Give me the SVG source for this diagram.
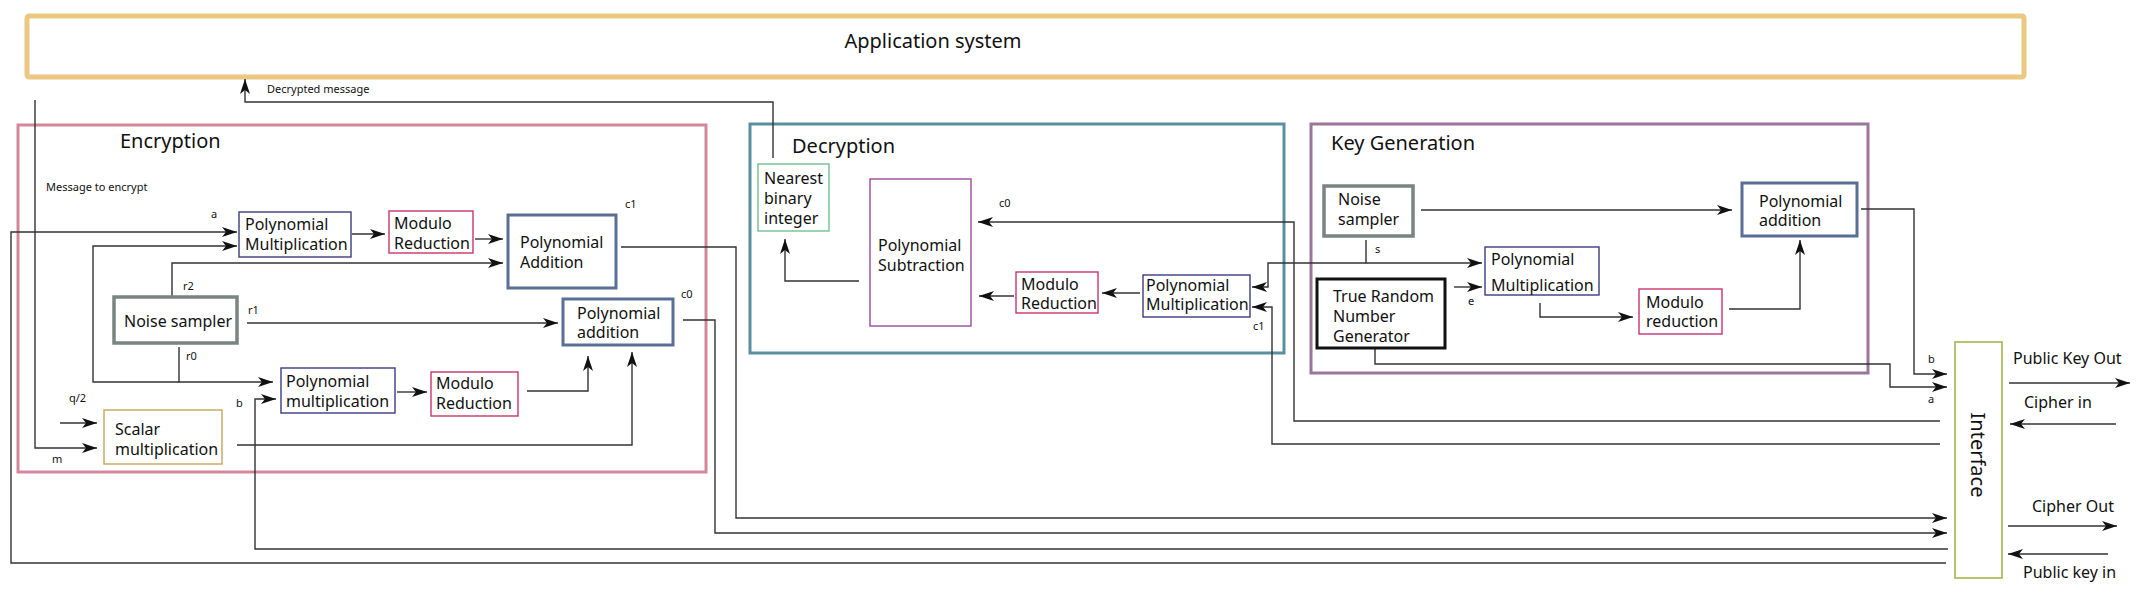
<svg xmlns="http://www.w3.org/2000/svg" width="2151" height="605" viewBox="0 0 2151 605">
<defs>
<marker id="arr" markerWidth="16" markerHeight="12" refX="15" refY="6" orient="auto" markerUnits="userSpaceOnUse" viewBox="0 0 16 12"><path d="M0,1 L15,6 L0,11 L4,6 Z" fill="#111"/></marker>
</defs>
<style>
text{font-family:"Noto Sans","Open Sans","DejaVu Sans",sans-serif;fill:#111}
.t{font-size:16px}
.h{font-size:20px}
.s{font-size:11px}
.c{fill:none;stroke:#333;stroke-width:1.4}
.ca{fill:none;stroke:#333;stroke-width:1.4;marker-end:url(#arr)}
rect{fill:#fff}
.pm{stroke:#3c3c80;stroke-width:1.4}
.mr{stroke:#c8346c;stroke-width:1.4}
.pa{stroke:#5a6e96;stroke-width:3}
.ns{stroke:#7a8480;stroke-width:3.5}
</style>
<rect width="2151" height="605" fill="#fff"/>
<g id="application">
<rect x="27" y="16" width="1997" height="61" fill="#fff" stroke="#ebc882" stroke-width="5" rx="2"/>
<text class="h" x="933" y="48" text-anchor="middle">Application system</text>
</g>
<g id="encryption">
<rect x="18" y="125" width="688" height="347" fill="none" stroke="#d4879c" stroke-width="3"/>
<text class="h" x="120" y="148">Encryption</text>
</g>
<g id="decryption">
<rect x="750" y="124" width="534" height="229" fill="none" stroke="#5a8fa0" stroke-width="3"/>
<text class="h" x="792" y="153">Decryption</text>
</g>
<g id="keygen">
<rect x="1311" y="124" width="557" height="249" fill="none" stroke="#9a7799" stroke-width="3"/>
<text class="h" x="1331" y="150">Key Generation</text>
</g>
<g id="connectors">
<path class="ca" d="M1946,563 L11,563 L11,232 L237,232"/>
<path class="ca" d="M179,347 L179,382 L273,382"/>
<path class="ca" d="M179,382 L93,382 L93,246 L237,246"/>
<path class="ca" d="M172,297 L172,263 L503,263"/>
<path class="ca" d="M247,323 L558,323"/>
<path class="ca" d="M352,234 L385,234"/>
<path class="ca" d="M475,239 L503,239"/>
<path class="ca" d="M621,247 L736,247 L736,518 L1947,518"/>
<path class="ca" d="M683,320 L715,320 L715,533 L1947,533"/>
<path class="ca" d="M397,392 L427,392"/>
<path class="ca" d="M527,391 L588,391 L588,356"/>
<path class="ca" d="M237,445 L632,445 L632,352"/>
<path class="ca" d="M60,423 L97,423"/>
<path class="ca" d="M35,100 L35,448 L97,448"/>
<path class="ca" d="M1948,549 L255,549 L255,399 L276,399"/>
<path class="ca" d="M773,158 L773,102 L245,102 L245,79"/>
<path class="ca" d="M859,281 L785,281 L785,239"/>
<path class="ca" d="M1940,421 L1294,421 L1294,222 L978,222"/>
<path class="ca" d="M1014,296 L979,296"/>
<path class="ca" d="M1140,293 L1102,293"/>
<path class="ca" d="M1940,444 L1272,444 L1272,307 L1252,307"/>
<path class="ca" d="M1366,240 L1366,263 L1482,263"/>
<path class="ca" d="M1366,263 L1268,263 L1268,287 L1252,287"/>
<path class="ca" d="M1421,210 L1732,210"/>
<path class="ca" d="M1454,287 L1482,287"/>
<path class="ca" d="M1540,303 L1540,317 L1633,317"/>
<path class="ca" d="M1729,309 L1800,309 L1800,240"/>
<path class="ca" d="M1861,209 L1914,209 L1914,374 L1947,374"/>
<path class="ca" d="M1375,348 L1375,364 L1890,364 L1890,387 L1947,387"/>
<path class="ca" d="M2009,383 L2130,383"/>
<path class="ca" d="M2116,424 L2010,424"/>
<path class="ca" d="M2008,526 L2117,526"/>
<path class="ca" d="M2108,554 L2008,554"/>
</g>
<g id="labels">
<text class="s" x="46" y="191">Message to encrypt</text>
<text class="s" x="267" y="93">Decrypted message</text>
<text class="s" x="211" y="218">a</text>
<text class="s" x="183" y="290">r2</text>
<text class="s" x="248" y="314">r1</text>
<text class="s" x="186" y="360">r0</text>
<text class="s" x="69" y="402">q/2</text>
<text class="s" x="236" y="407">b</text>
<text class="s" x="52" y="463">m</text>
<text class="s" x="625" y="208">c1</text>
<text class="s" x="681" y="298">c0</text>
<text class="s" x="999" y="207">c0</text>
<text class="s" x="1253" y="330">c1</text>
<text class="s" x="1375" y="253">s</text>
<text class="s" x="1468" y="305">e</text>
<text class="s" x="1928" y="363">b</text>
<text class="s" x="1928" y="403">a</text>
<text class="t" x="2013" y="364">Public Key Out</text>
<text class="t" x="2024" y="408">Cipher in</text>
<text class="t" x="2032" y="512">Cipher Out</text>
<text class="t" x="2023" y="578">Public key in</text>
</g>
<g id="enc-polymult1">
<rect class="pm" x="239" y="212" width="112" height="45"/>
<text class="t" x="245" y="230">Polynomial</text>
<text class="t" x="245" y="250">Multiplication</text>
</g>
<g id="enc-modred1">
<rect class="mr" x="389" y="211" width="84" height="42"/>
<text class="t" x="394" y="229">Modulo</text>
<text class="t" x="394" y="249">Reduction</text>
</g>
<g id="enc-polyadd-c1">
<rect class="pa" x="508" y="215" width="108" height="73" stroke-width="4"/>
<text class="t" x="520" y="248">Polynomial</text>
<text class="t" x="520" y="268">Addition</text>
</g>
<g id="enc-polyadd-c0">
<rect class="pa" x="563" y="299" width="110" height="46"/>
<text class="t" x="577" y="319">Polynomial</text>
<text class="t" x="577" y="338">addition</text>
</g>
<g id="enc-noise">
<rect class="ns" x="114" y="297" width="123" height="46"/>
<text class="t" x="124" y="327">Noise sampler</text>
</g>
<g id="enc-polymult2">
<rect class="pm" x="281" y="368" width="114" height="45"/>
<text class="t" x="286" y="387">Polynomial</text>
<text class="t" x="286" y="407">multiplication</text>
</g>
<g id="enc-modred2">
<rect class="mr" x="431" y="372" width="87" height="44"/>
<text class="t" x="436" y="389">Modulo</text>
<text class="t" x="436" y="409">Reduction</text>
</g>
<g id="enc-scalar">
<rect x="104" y="410" width="118" height="54" stroke="#c8aa64" stroke-width="1.5"/>
<text class="t" x="115" y="435">Scalar</text>
<text class="t" x="115" y="455">multiplication</text>
</g>
<g id="dec-nearest">
<rect x="758" y="164" width="71" height="67" stroke="#70c090" stroke-width="1.4"/>
<text class="t" x="764" y="184">Nearest</text>
<text class="t" x="764" y="204">binary</text>
<text class="t" x="764" y="224">integer</text>
</g>
<g id="dec-polysub">
<rect x="870" y="179" width="101" height="147" stroke="#9a4a9a" stroke-width="1.4"/>
<text class="t" x="878" y="251">Polynomial</text>
<text class="t" x="878" y="271">Subtraction</text>
</g>
<g id="dec-modred">
<rect class="mr" x="1016" y="272" width="82" height="41"/>
<text class="t" x="1021" y="290">Modulo</text>
<text class="t" x="1021" y="309">Reduction</text>
</g>
<g id="dec-polymult">
<rect class="pm" x="1143" y="275" width="107" height="42"/>
<text class="t" x="1146" y="291">Polynomial</text>
<text class="t" x="1146" y="310">Multiplication</text>
</g>
<g id="kg-noise">
<rect class="ns" x="1324" y="186" width="89" height="50"/>
<text class="t" x="1338" y="205">Noise</text>
<text class="t" x="1338" y="225">sampler</text>
</g>
<g id="kg-trng">
<rect x="1317" y="279" width="128" height="69" stroke="#111" stroke-width="3"/>
<text class="t" x="1333" y="302">True Random</text>
<text class="t" x="1333" y="322">Number</text>
<text class="t" x="1333" y="342">Generator</text>
</g>
<g id="kg-polymult">
<rect class="pm" x="1485" y="247" width="114" height="48"/>
<text class="t" x="1491" y="265">Polynomial</text>
<text class="t" x="1491" y="291">Multiplication</text>
</g>
<g id="kg-modred">
<rect class="mr" x="1639" y="289" width="83" height="45" stroke="#cc4a80"/>
<text class="t" x="1646" y="308">Modulo</text>
<text class="t" x="1646" y="327">reduction</text>
</g>
<g id="kg-polyadd">
<rect class="pa" x="1742" y="183" width="115" height="53"/>
<text class="t" x="1759" y="207">Polynomial</text>
<text class="t" x="1759" y="226">addition</text>
</g>
<g id="interface">
<rect x="1955" y="342" width="47" height="236" stroke="#a0b040" stroke-width="1.5"/>
<text class="h" transform="translate(1971,455) rotate(90)" text-anchor="middle">Interface</text>
</g>
</svg>
